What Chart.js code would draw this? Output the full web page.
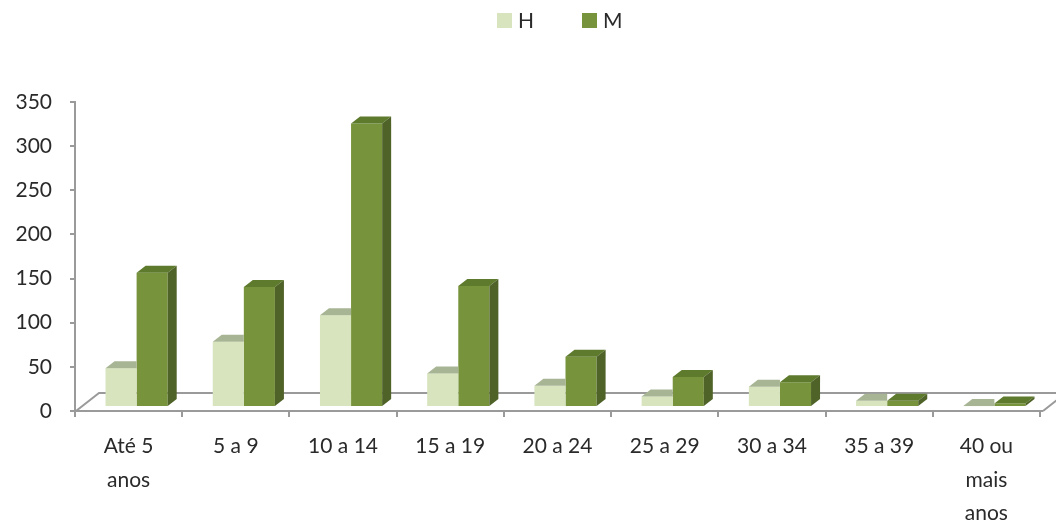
<!DOCTYPE html>
<html>
<head>
<meta charset="utf-8">
<script src="https://cdn.jsdelivr.net/npm/chart.js@4/dist/chart.umd.min.js"></script>
<style>
  html, body { margin: 0; padding: 0; background: #fff; }
  #wrap { width: 1056px; height: 522px; position: relative; }
</style>
</head>
<body>
<div id="wrap"><canvas id="myChart"></canvas></div>
<script>
// Data
const categories = [['Até 5', 'anos'], '5 a 9', '10 a 14', '15 a 19', '20 a 24', '25 a 29', '30 a 34', '35 a 39', ['40 ou', 'mais', 'anos']];
const valuesH = [44, 74, 104, 38, 24, 12, 23, 7, 1];
const valuesM = [152, 136, 321, 137, 57, 34, 28, 7, 4];
const yTicks = [0, 50, 100, 150, 200, 250, 300, 350];

const textColor = '#2a2a2a';
const axisColor = '#9a9a9a';
const font = { family: 'Lato, "Open Sans", sans-serif', size: 21 };

// 3D look: bars are pushed back a bit and get a top and side face
const SHIFT_X = 8, SHIFT_Y = -4;
const DEPTH_X = 9, DEPTH_Y = 7;
const FLOOR_X = 23, FLOOR_Y = 18;

const faces = [
    { front: '#D7E4BD', top: '#A7B594', side: '#A7B594', hideSide: true },
    { front: '#77933C', top: '#5D7A2D', side: '#4F6228', hideSide: false }
];

const floorPlugin = {
    id: 'floor',
    beforeDatasetsDraw(chart) {
        const { ctx, chartArea } = chart;
        const b = chartArea.bottom;
        ctx.save();
        ctx.strokeStyle = axisColor;
        ctx.lineWidth = 2;
        ctx.beginPath();
        ctx.moveTo(chartArea.left + 1, b);
        ctx.lineTo(chartArea.left + 1 + FLOOR_X, b - FLOOR_Y);
        ctx.lineTo(chart.width + 5, b - FLOOR_Y);
        ctx.moveTo(chartArea.right + 3, b);
        ctx.lineTo(chartArea.right + 3 + FLOOR_X, b - FLOOR_Y);
        ctx.stroke();
        ctx.beginPath();
        ctx.moveTo(chartArea.right, b);
        ctx.lineTo(chartArea.right + 3, b);
        ctx.stroke();
        ctx.restore();
        // shift the bars back onto the floor
        ctx.save();
        ctx.translate(SHIFT_X, SHIFT_Y);
    },
    afterDatasetDraw(chart, args) {
        const { ctx } = chart;
        const f = faces[args.index];
        args.meta.data.forEach((bar) => {
            const { x, y, base, width } = bar.getProps(['x', 'y', 'base', 'width'], true);
            const L = x - width / 2, R = x + width / 2;
            ctx.fillStyle = f.top;
            ctx.beginPath();
            ctx.moveTo(L, y);
            ctx.lineTo(L + DEPTH_X, y - DEPTH_Y);
            if (f.hideSide) {
                ctx.lineTo(R, y - DEPTH_Y);
            } else {
                ctx.lineTo(R + DEPTH_X, y - DEPTH_Y);
            }
            ctx.lineTo(R, y);
            ctx.closePath();
            ctx.fill();
            if (!f.hideSide) {
                ctx.fillStyle = f.side;
                ctx.beginPath();
                ctx.moveTo(R, y);
                ctx.lineTo(R + DEPTH_X, y - DEPTH_Y);
                ctx.lineTo(R + DEPTH_X, base - DEPTH_Y);
                ctx.lineTo(R, base);
                ctx.closePath();
                ctx.fill();
            }
        });
    },
    afterDatasetsDraw(chart) {
        chart.ctx.restore();
    }
};

const legendPlugin = {
    id: 'topLegend',
    afterDraw(chart) {
        const { ctx } = chart;
        const items = [
            { text: 'H', color: faces[0].front, x: 497 },
            { text: 'M', color: faces[1].front, x: 582 }
        ];
        ctx.save();
        ctx.font = `${font.size}px ${font.family}`;
        ctx.textBaseline = 'middle';
        items.forEach((it) => {
            ctx.fillStyle = it.color;
            ctx.fillRect(it.x, 13, 15, 15);
            ctx.fillStyle = textColor;
            ctx.fillText(it.text, it.x + 21, 21);
        });
        ctx.restore();
    }
};

const ctx = document.getElementById('myChart').getContext('2d');

const myChart = new Chart(ctx, {
    type: 'bar',
    data: {
        labels: categories,
        datasets: [{
            label: 'H',
            data: valuesH,
            backgroundColor: faces[0].front,
            borderWidth: 0,
            clip: false
        }, {
            label: 'M',
            data: valuesM,
            backgroundColor: faces[1].front,
            borderWidth: 0,
            clip: false
        }]
    },
    options: {
        responsive: true,
        maintainAspectRatio: false,
        animation: false,
        categoryPercentage: 0.58,
        barPercentage: 1.0,
        layout: { padding: { top: 102, right: 16, left: 0, bottom: 0 } },
        plugins: {
            legend: { display: false },
            tooltip: { enabled: false }
        },
        scales: {
            x: {
                grid: { drawOnChartArea: false, offset: true, tickLength: 6, color: axisColor, lineWidth: 2 },
                border: { color: axisColor, width: 2 },
                ticks: { color: textColor, font: { ...font, lineHeight: 1.58 }, padding: 13, maxRotation: 0, autoSkip: false },
                afterFit: (scale) => { scale.height = 111; }
            },
            y: {
                min: 0,
                max: 350,
                afterBuildTicks: (scale) => { scale.ticks = yTicks.map(v => ({ value: v })); },
                grid: { drawOnChartArea: false, tickLength: 5, color: axisColor, lineWidth: 2 },
                border: { color: axisColor, width: 2 },
                ticks: { color: textColor, font: font, padding: 18 },
                afterFit: (scale) => { scale.width = 75; }
            }
        }
    },
    plugins: [floorPlugin, legendPlugin]
});
</script>
</body>
</html>
